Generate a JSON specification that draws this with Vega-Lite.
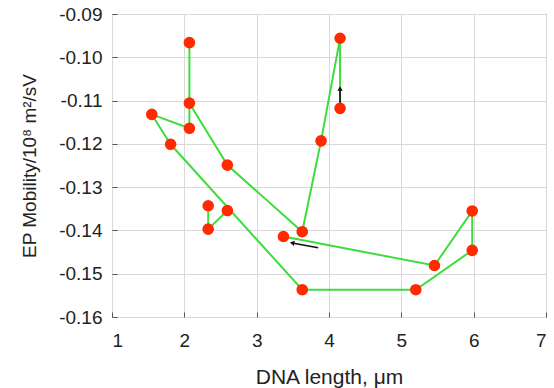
{
  "$schema": "https://vega.github.io/schema/vega-lite/v6.json",
  "autosize": "none",
  "width": 434,
  "height": 303,
  "padding": {"left": 112, "top": 14, "right": 8, "bottom": 71},
  "background": "white",
  "config": {
    "view": {"stroke": "#555555", "strokeWidth": 1},
    "font": "Liberation Sans",
    "axis": {
      "labelFont": "Liberation Sans",
      "titleFont": "Liberation Sans",
      "labelColor": "#222222",
      "titleColor": "#222222",
      "titleFontWeight": "normal",
      "gridColor": "#d9d9d9",
      "gridWidth": 1,
      "domain": false,
      "tickColor": "#555555"
    }
  },
  "datasets": {
    "points": [
      {"name": "A", "x": 2.07, "y": -0.0966},
      {"name": "B", "x": 2.07, "y": -0.1106},
      {"name": "C", "x": 2.07, "y": -0.1164},
      {"name": "D", "x": 1.55, "y": -0.1132},
      {"name": "E", "x": 1.81, "y": -0.1201},
      {"name": "F", "x": 2.595, "y": -0.1249},
      {"name": "G", "x": 4.153, "y": -0.0956},
      {"name": "H", "x": 4.153, "y": -0.1118},
      {"name": "I", "x": 3.89, "y": -0.1193},
      {"name": "J", "x": 2.33, "y": -0.1343},
      {"name": "K", "x": 2.33, "y": -0.1397},
      {"name": "L", "x": 2.595, "y": -0.1354},
      {"name": "M", "x": 3.63, "y": -0.1403},
      {"name": "N", "x": 3.37, "y": -0.1414},
      {"name": "O", "x": 5.458, "y": -0.1481},
      {"name": "P", "x": 5.98, "y": -0.1355},
      {"name": "Q", "x": 5.98, "y": -0.1446},
      {"name": "R", "x": 5.2, "y": -0.1537},
      {"name": "S", "x": 3.63, "y": -0.1537}
    ],
    "lines": [
      {"path": 1, "ord": 1, "x": 4.153, "y": -0.1118},
      {"path": 1, "ord": 2, "x": 4.153, "y": -0.0956},
      {"path": 1, "ord": 3, "x": 3.89, "y": -0.1193},
      {"path": 1, "ord": 4, "x": 3.63, "y": -0.1403},
      {"path": 1, "ord": 5, "x": 2.595, "y": -0.1249},
      {"path": 1, "ord": 6, "x": 2.07, "y": -0.1106},
      {"path": 1, "ord": 7, "x": 2.07, "y": -0.0966},
      {"path": 2, "ord": 1, "x": 2.07, "y": -0.1106},
      {"path": 2, "ord": 2, "x": 2.07, "y": -0.1164},
      {"path": 2, "ord": 3, "x": 1.55, "y": -0.1132},
      {"path": 2, "ord": 4, "x": 1.81, "y": -0.1201},
      {"path": 2, "ord": 5, "x": 3.63, "y": -0.1537},
      {"path": 2, "ord": 6, "x": 5.2, "y": -0.1537},
      {"path": 2, "ord": 7, "x": 5.98, "y": -0.1446},
      {"path": 2, "ord": 8, "x": 5.98, "y": -0.1355},
      {"path": 2, "ord": 9, "x": 5.458, "y": -0.1481},
      {"path": 2, "ord": 10, "x": 3.37, "y": -0.1414},
      {"path": 3, "ord": 1, "x": 2.33, "y": -0.1343},
      {"path": 3, "ord": 2, "x": 2.33, "y": -0.1397},
      {"path": 3, "ord": 3, "x": 2.595, "y": -0.1354}
    ],
    "arrows": [
      {"id": "up", "x": 4.153, "y": -0.1116, "x2": 4.153, "y2": -0.1072},
      {"id": "left", "x": 3.85, "y": -0.1440, "x2": 3.49, "y2": -0.1429}
    ]
  },
  "layer": [
    {
      "data": {"name": "lines"},
      "mark": {"type": "line", "color": "#3fdc3f", "strokeWidth": 2},
      "encoding": {
        "x": {"field": "x", "type": "quantitative", "scale": {"domain": [1, 7], "nice": false, "zero": false},
              "axis": {"title": "DNA length, μm", "values": [1, 2, 3, 4, 5, 6, 7], "format": "d", "labelFontSize": 19, "titleFontSize": 21, "tickSize": -5, "labelPadding": 19, "titlePadding": 16, "grid": true}},
        "y": {"field": "y", "type": "quantitative", "scale": {"domain": [-0.16, -0.09], "nice": false, "zero": false},
              "axis": {"title": "EP Mobility/10⁸ m²/sV", "values": [-0.16, -0.15, -0.14, -0.13, -0.12, -0.11, -0.10, -0.09], "labelExpr": "replace(format(datum.value, '.2f'), '−', '-')", "labelFontSize": 19, "titleFontSize": 19, "tickSize": -5, "labelPadding": 15, "titlePadding": 19, "grid": true}},
        "detail": {"field": "path", "type": "nominal"},
        "order": {"field": "ord", "type": "quantitative"}
      }
    },
    {
      "data": {"name": "arrows"},
      "mark": {"type": "rule", "color": "#111111", "strokeWidth": 1.6},
      "encoding": {
        "x": {"field": "x", "type": "quantitative"},
        "y": {"field": "y", "type": "quantitative"},
        "x2": {"field": "x2"},
        "y2": {"field": "y2"}
      }
    },
    {
      "data": {"name": "arrows"},
      "transform": [{"filter": "datum.id === 'up'"}],
      "mark": {"type": "point", "shape": "triangle-up", "filled": true, "color": "#111111", "size": 28, "opacity": 1},
      "encoding": {
        "x": {"field": "x2", "type": "quantitative"},
        "y": {"field": "y2", "type": "quantitative"}
      }
    },
    {
      "data": {"name": "arrows"},
      "transform": [{"filter": "datum.id === 'left'"}],
      "mark": {"type": "point", "shape": "triangle-left", "angle": 10, "filled": true, "color": "#111111", "size": 28, "opacity": 1},
      "encoding": {
        "x": {"field": "x2", "type": "quantitative"},
        "y": {"field": "y2", "type": "quantitative"}
      }
    },
    {
      "data": {"name": "points"},
      "mark": {"type": "point", "shape": "circle", "filled": true, "color": "#ff2a00", "size": 135, "opacity": 1},
      "encoding": {
        "x": {"field": "x", "type": "quantitative"},
        "y": {"field": "y", "type": "quantitative"}
      }
    }
  ]
}
